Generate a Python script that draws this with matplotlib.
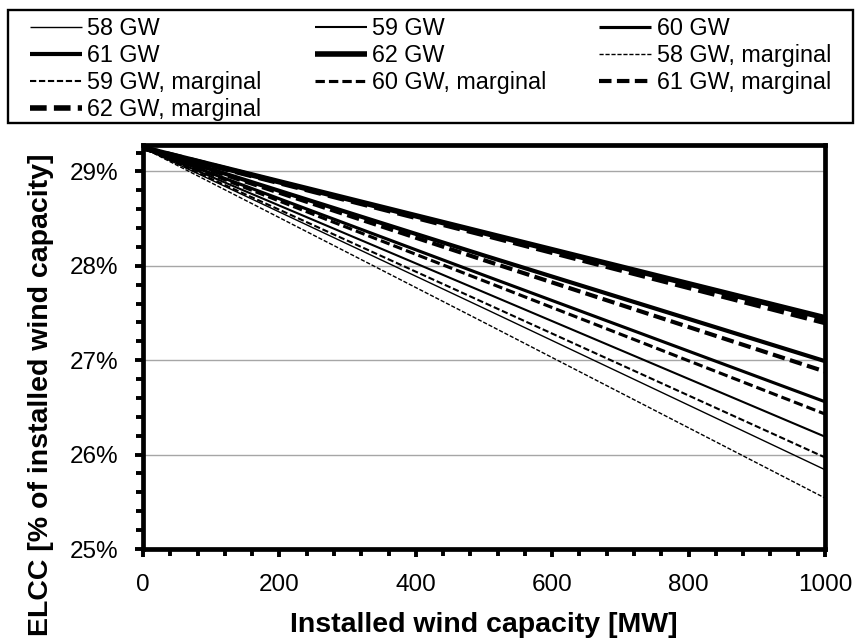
import matplotlib
matplotlib.use("Agg")
import matplotlib.pyplot as plt
from matplotlib.ticker import MultipleLocator, FuncFormatter
from matplotlib.patches import Rectangle

plt.rcParams['font.family'] = ['Liberation Sans', 'DejaVu Sans']

# ---- data ----
capacity_mw = [0, 500, 1000]
labels = ["58 GW", "59 GW", "60 GW", "61 GW", "62 GW"]
elcc_58 = [29.25, 27.55, 25.84]
elcc_59 = [29.25, 27.72, 26.19]
elcc_60 = [29.25, 27.90, 26.56]
elcc_61 = [29.25, 28.11, 26.99]
elcc_62 = [29.25, 28.35, 27.45]
elcc_58_marg = [29.25, 27.40, 25.54]
elcc_59_marg = [29.25, 27.61, 25.97]
elcc_60_marg = [29.25, 27.84, 26.43]
elcc_61_marg = [29.25, 28.06, 26.88]
elcc_62_marg = [29.25, 28.33, 27.40]

solid = [elcc_58, elcc_59, elcc_60, elcc_61, elcc_62]
marg = [elcc_58_marg, elcc_59_marg, elcc_60_marg, elcc_61_marg, elcc_62_marg]
widths = [1.0, 1.5, 2.25, 3.0, 4.0]

fig = plt.figure(figsize=(8.6, 6.43), dpi=100)
ax = fig.add_axes([143/860, 1-549/643, (825-143)/860, (549-145)/643])

handles = {}
for lab, ys, lw in zip(labels, solid, widths):
    h, = ax.plot(capacity_mw, ys, color='black', lw=lw, solid_capstyle='butt', zorder=3)
    handles[lab] = h
for lab, ys, lw in zip(labels, marg, widths):
    h, = ax.plot(capacity_mw, ys, color='black', lw=lw, linestyle=(0, (3.0, 1.3)),
                 dash_capstyle='butt', zorder=3)
    handles[lab + ", marginal"] = h

ax.set_xlim(0, 1000)
ax.set_ylim(25, 29.28)
ax.xaxis.set_major_locator(MultipleLocator(200))
ax.xaxis.set_minor_locator(MultipleLocator(40))
ax.yaxis.set_major_locator(MultipleLocator(1))
ax.yaxis.set_minor_locator(MultipleLocator(0.2))
ax.yaxis.set_major_formatter(FuncFormatter(lambda v, p: f"{v:.0f}%"))

ax.grid(axis='y', which='major', color='#a6a6a6', lw=1.0, zorder=1)
ax.set_axisbelow(True)
for s in ax.spines.values():
    s.set_linewidth(3.4)
    s.set_zorder(4)

ax.tick_params(axis='both', which='major', direction='out', length=6, width=2.8,
               labelsize=17.5, pad=12, colors='black')
ax.tick_params(axis='both', which='minor', direction='out', length=5, width=2.8)

ax.set_xlabel("Installed wind capacity [MW]", fontsize=20.5, fontweight='bold')
ax.set_ylabel("ELCC [% of installed wind capacity]", fontsize=20.5, fontweight='bold')
ax.xaxis.set_label_coords(0.5, (549-612)/404)
ax.yaxis.set_label_coords((54-143)/682, (549-395)/404)

# legend: column-major filling to reproduce row-major order of the reference
order = ["58 GW", "61 GW", "59 GW, marginal", "62 GW, marginal",
         "59 GW", "62 GW", "60 GW, marginal",
         "60 GW", "58 GW, marginal", "61 GW, marginal"]
leg = fig.legend([handles[k] for k in order], order, ncol=3, mode='expand',
                 loc='upper left', bbox_to_anchor=(30/860, 1-124/643, 801/860, 107/643),
                 frameon=False, fontsize=16.8, handlelength=2.23, handletextpad=0.22,
                 labelspacing=0.17, borderpad=0.0, borderaxespad=0.0)

fig.patches.append(Rectangle((8/860, 1-123/643), 845/860, 113/643, transform=fig.transFigure,
                             fill=False, lw=1.7, ec='black'))

fig.savefig("out.png", dpi=100)
